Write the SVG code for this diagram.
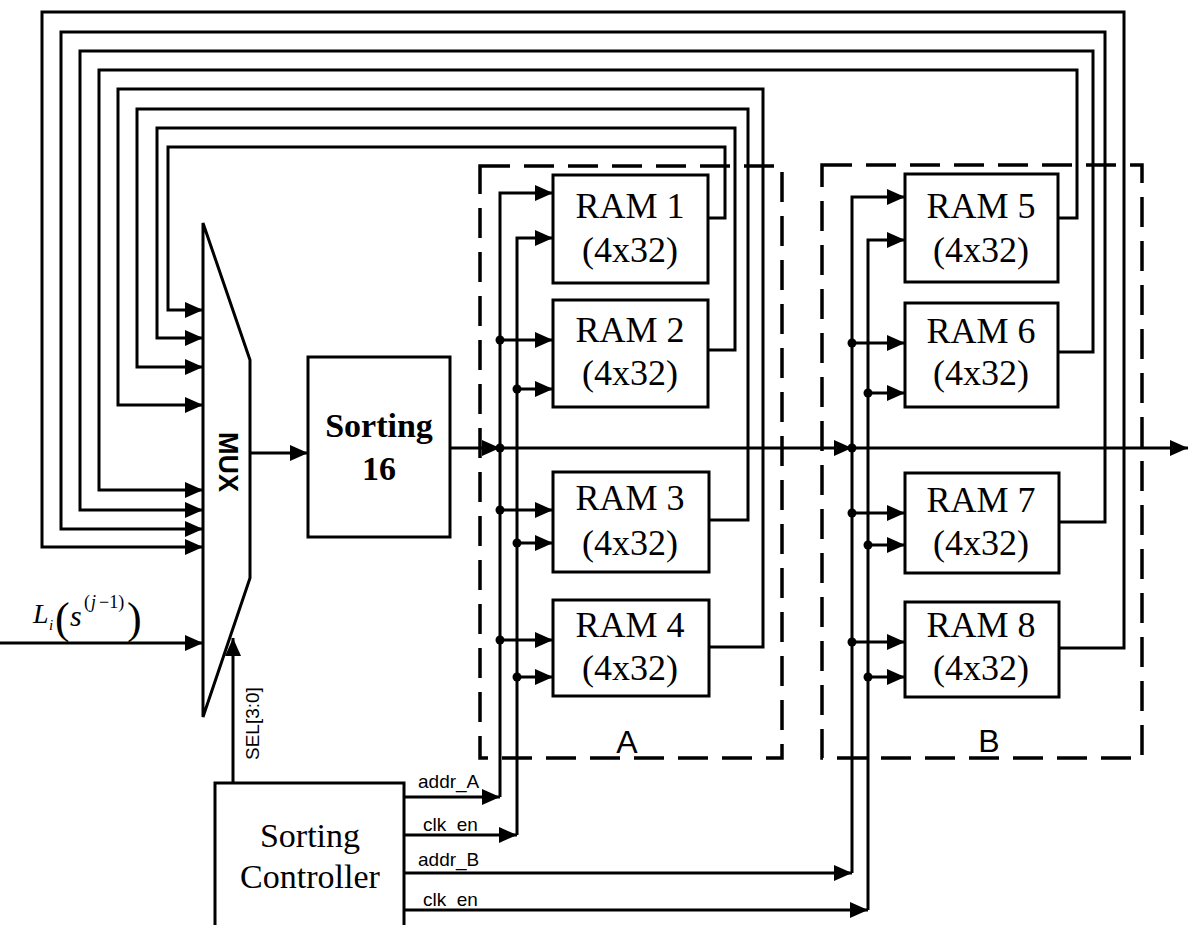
<svg xmlns="http://www.w3.org/2000/svg" width="1188" height="929" viewBox="0 0 1188 929">
<defs>
<marker id="ah" markerUnits="userSpaceOnUse" markerWidth="20" markerHeight="16" refX="18" refY="8" orient="auto">
<path d="M0,0 L18,8 L0,16 z" fill="#000"/>
</marker>
<style>
.ln{fill:none;stroke:#000;stroke-width:3}
.bx{fill:#fff;stroke:#000;stroke-width:3}
.dash{fill:none;stroke:#000;stroke-width:3.5;stroke-dasharray:30 14}
.ram{font-family:"Liberation Serif",serif;font-size:36px;text-anchor:middle}
.sm{font-family:"Liberation Sans",sans-serif;font-size:19px}
.dot{fill:#000}
</style>
</defs>
<rect width="1188" height="929" fill="#fff"/>

<g id="group-A">
<rect class="dash" x="480" y="166" width="302" height="592"/>
<text x="627" y="753" font-family="Liberation Sans, sans-serif" font-size="32" text-anchor="middle">A</text>
</g>
<g id="group-B">
<rect class="dash" x="822" y="165" width="320" height="593"/>
<text x="989" y="752" font-family="Liberation Sans, sans-serif" font-size="32" text-anchor="middle">B</text>
</g>

<g id="connectors">
<path class="ln" d="M708,218 H725 V147 H168 V310 H203" marker-end="url(#ah)"/>
<path class="ln" d="M708,350 H735 V128 H157 V338 H203" marker-end="url(#ah)"/>
<path class="ln" d="M709,520 H748 V109 H137 V367 H203" marker-end="url(#ah)"/>
<path class="ln" d="M709,647 H763 V89 H118 V405 H203" marker-end="url(#ah)"/>
<path class="ln" d="M1058,218 H1077 V70 H99 V490 H203" marker-end="url(#ah)"/>
<path class="ln" d="M1058,352 H1093 V51 H80 V510 H203" marker-end="url(#ah)"/>
<path class="ln" d="M1059,522 H1105 V32 H61 V529 H203" marker-end="url(#ah)"/>
<path class="ln" d="M1059,648 H1124 V12 H42 V547 H203" marker-end="url(#ah)"/>
<path class="ln" d="M0,643 H203" marker-end="url(#ah)"/>
<path class="ln" d="M250,453 H308" marker-end="url(#ah)"/>
<path class="ln" d="M450,448 H500" marker-end="url(#ah)"/>
<path class="ln" d="M500,448 H852" marker-end="url(#ah)"/>
<path class="ln" d="M852,448 H1188" marker-end="url(#ah)"/>
<path class="ln" d="M233,783 V638" marker-end="url(#ah)"/>
<path class="ln" d="M500,797 V193 H553" marker-end="url(#ah)"/>
<path class="ln" d="M517,835 V238 H553" marker-end="url(#ah)"/>
<path class="ln" d="M500,340 H553" marker-end="url(#ah)"/>
<path class="ln" d="M517,389 H553" marker-end="url(#ah)"/>
<path class="ln" d="M500,510 H553" marker-end="url(#ah)"/>
<path class="ln" d="M517,543 H553" marker-end="url(#ah)"/>
<path class="ln" d="M500,640 H553" marker-end="url(#ah)"/>
<path class="ln" d="M517,677 H553" marker-end="url(#ah)"/>
<path class="ln" d="M852,873 V197 H905" marker-end="url(#ah)"/>
<path class="ln" d="M868,910 V240 H905" marker-end="url(#ah)"/>
<path class="ln" d="M852,343 H905" marker-end="url(#ah)"/>
<path class="ln" d="M868,393 H905" marker-end="url(#ah)"/>
<path class="ln" d="M852,513 H905" marker-end="url(#ah)"/>
<path class="ln" d="M868,545 H905" marker-end="url(#ah)"/>
<path class="ln" d="M852,642 H905" marker-end="url(#ah)"/>
<path class="ln" d="M868,677 H905" marker-end="url(#ah)"/>
<path class="ln" d="M405,797 H500" marker-end="url(#ah)" stroke-width="2.5"/>
<path class="ln" d="M405,835 H517" marker-end="url(#ah)" stroke-width="2.5"/>
<path class="ln" d="M405,873 H852" marker-end="url(#ah)" stroke-width="2.5"/>
<path class="ln" d="M405,910 H868" marker-end="url(#ah)" stroke-width="2.5"/>
<circle class="dot" cx="500" cy="448" r="4.5"/>
<circle class="dot" cx="500" cy="340" r="4.5"/>
<circle class="dot" cx="517" cy="389" r="4.5"/>
<circle class="dot" cx="500" cy="510" r="4.5"/>
<circle class="dot" cx="517" cy="543" r="4.5"/>
<circle class="dot" cx="500" cy="640" r="4.5"/>
<circle class="dot" cx="517" cy="677" r="4.5"/>
<circle class="dot" cx="852" cy="448" r="4.5"/>
<circle class="dot" cx="852" cy="343" r="4.5"/>
<circle class="dot" cx="868" cy="393" r="4.5"/>
<circle class="dot" cx="852" cy="513" r="4.5"/>
<circle class="dot" cx="868" cy="545" r="4.5"/>
<circle class="dot" cx="852" cy="642" r="4.5"/>
<circle class="dot" cx="868" cy="677" r="4.5"/>
<text class="sm" x="418" y="788">addr_A</text>
<text class="sm" x="423" y="831">clk_en</text>
<text class="sm" x="418" y="866">addr_B</text>
<text class="sm" x="423" y="906">clk_en</text>
<text class="sm" font-size="20" transform="translate(259,760) rotate(-90)">SEL[3:0]</text>
</g>

<g id="mux">
<path class="bx" d="M203,223 L250,360 L250,578 L203,717 Z"/>
<text transform="translate(219,432) rotate(90)" font-family="Liberation Sans, sans-serif" font-weight="bold" font-size="27">MUX</text>
</g>

<g id="input-label" font-family="Liberation Serif, serif" font-style="italic">
<text x="33" y="623" font-size="28">L</text>
<text x="49" y="630" font-size="15">i</text>
<text x="55" y="633" font-size="44" font-style="normal">(</text>
<text x="70" y="626" font-size="30">s</text>
<text x="84" y="608" font-size="18" font-style="normal">(</text>
<text x="91" y="608" font-size="18">j</text>
<text x="99" y="608" font-size="18" font-style="normal">−1)</text>
<text x="127" y="633" font-size="44" font-style="normal">)</text>
</g>

<g id="sorting16">
<rect class="bx" x="308" y="357" width="142" height="180"/>
<text x="379" y="437" font-family="Liberation Serif, serif" font-weight="bold" font-size="34" text-anchor="middle">Sorting</text>
<text x="379" y="480" font-family="Liberation Serif, serif" font-weight="bold" font-size="34" text-anchor="middle">16</text>
</g>

<g id="controller">
<path class="bx" d="M215,925 V783 H404 V925"/>
<text x="310" y="847" font-family="Liberation Serif, serif" font-size="34" text-anchor="middle">Sorting</text>
<text x="310" y="888" font-family="Liberation Serif, serif" font-size="34" text-anchor="middle">Controller</text>
</g>

<g id="ram1"><rect class="bx" x="553" y="175" width="155" height="108"/><text class="ram" x="630" y="218">RAM 1</text><text class="ram" x="630" y="262">(4x32)</text></g>
<g id="ram2"><rect class="bx" x="553" y="300" width="155" height="107"/><text class="ram" x="630" y="342">RAM 2</text><text class="ram" x="630" y="385">(4x32)</text></g>
<g id="ram3"><rect class="bx" x="553" y="472" width="156" height="100"/><text class="ram" x="630" y="510">RAM 3</text><text class="ram" x="630" y="555">(4x32)</text></g>
<g id="ram4"><rect class="bx" x="553" y="600" width="156" height="96"/><text class="ram" x="630" y="637">RAM 4</text><text class="ram" x="630" y="680">(4x32)</text></g>
<g id="ram5"><rect class="bx" x="905" y="174" width="153" height="108"/><text class="ram" x="981" y="218">RAM 5</text><text class="ram" x="981" y="262">(4x32)</text></g>
<g id="ram6"><rect class="bx" x="905" y="303" width="153" height="104"/><text class="ram" x="981" y="343">RAM 6</text><text class="ram" x="981" y="385">(4x32)</text></g>
<g id="ram7"><rect class="bx" x="905" y="473" width="154" height="100"/><text class="ram" x="981" y="512">RAM 7</text><text class="ram" x="981" y="555">(4x32)</text></g>
<g id="ram8"><rect class="bx" x="905" y="602" width="154" height="95"/><text class="ram" x="981" y="637">RAM 8</text><text class="ram" x="981" y="680">(4x32)</text></g>
</svg>
